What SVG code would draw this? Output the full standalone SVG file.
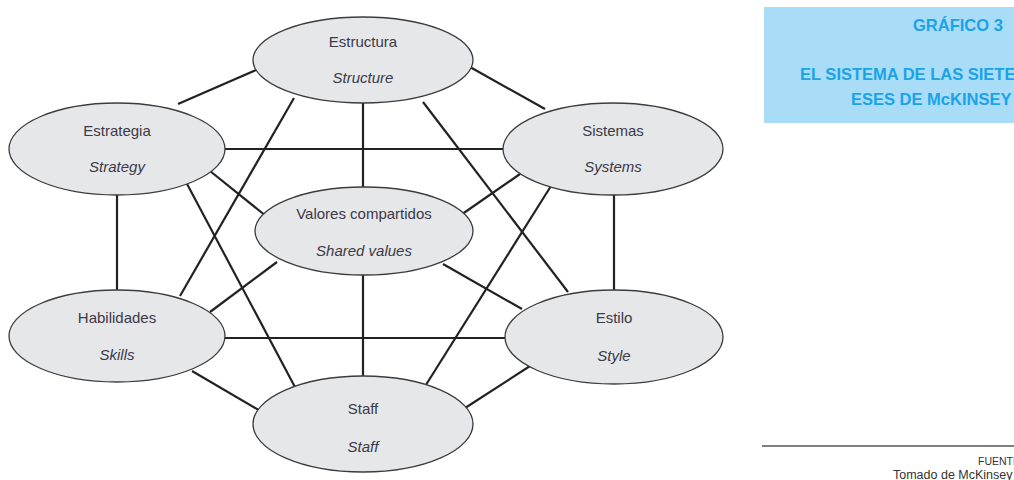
<svg xmlns="http://www.w3.org/2000/svg" width="1014" height="480" viewBox="0 0 1014 480">
<style>
.n{fill:#e6e7e9;stroke:#3c3c3c;stroke-width:1.3}
.t{font-family:"Liberation Sans",Arial,sans-serif;font-size:15px;fill:#3a3a48;text-anchor:middle}
.i{font-style:italic}
.c line{stroke:#222;stroke-width:2.2}
.h{font-family:"Liberation Sans",Arial,sans-serif;font-weight:bold;font-size:16.5px;fill:#1aa3e8}
.f{font-family:"Liberation Sans",Arial,sans-serif;fill:#333}
</style>
<rect width="1014" height="480" fill="#fff"/>
<g id="connectors" class="c">
<line x1="178" y1="104" x2="256" y2="70"/>
<line x1="470" y1="67" x2="545" y2="109"/>
<line x1="363" y1="100" x2="363" y2="190"/>
<line x1="294" y1="98" x2="180" y2="296"/>
<line x1="423" y1="102" x2="568" y2="292"/>
<line x1="220" y1="149" x2="508" y2="149"/>
<line x1="210" y1="171" x2="266" y2="216"/>
<line x1="117" y1="192" x2="117" y2="293"/>
<line x1="186" y1="182" x2="296" y2="389"/>
<line x1="520" y1="174" x2="458" y2="217"/>
<line x1="551" y1="186" x2="424" y2="388"/>
<line x1="614" y1="192" x2="614" y2="294"/>
<line x1="277" y1="262" x2="210" y2="312"/>
<line x1="443" y1="264" x2="522" y2="309"/>
<line x1="363" y1="272" x2="363" y2="379"/>
<line x1="220" y1="338" x2="510" y2="338"/>
<line x1="192" y1="371" x2="262" y2="412"/>
<line x1="530" y1="366" x2="462" y2="410"/>
</g>
<g id="estructura"><ellipse class="n" cx="363" cy="60" rx="110" ry="43"/><text class="t" x="363" y="47">Estructura</text><text class="t i" x="363" y="83">Structure</text></g>
<g id="estrategia"><ellipse class="n" cx="117" cy="149" rx="108" ry="46"/><text class="t" x="117" y="136">Estrategia</text><text class="t i" x="117" y="172">Strategy</text></g>
<g id="sistemas"><ellipse class="n" cx="613" cy="149" rx="110" ry="46"/><text class="t" x="613" y="136">Sistemas</text><text class="t i" x="613" y="172">Systems</text></g>
<g id="valores"><ellipse class="n" cx="364" cy="231" rx="109" ry="44"/><text class="t" x="364" y="219">Valores compartidos</text><text class="t i" x="364" y="256">Shared values</text></g>
<g id="habilidades"><ellipse class="n" cx="117" cy="336" rx="108" ry="46"/><text class="t" x="117" y="323">Habilidades</text><text class="t i" x="117" y="360">Skills</text></g>
<g id="estilo"><ellipse class="n" cx="614" cy="337" rx="109" ry="47"/><text class="t" x="614" y="323">Estilo</text><text class="t i" x="614" y="361">Style</text></g>
<g id="staff"><ellipse class="n" cx="363" cy="424" rx="110" ry="48"/><text class="t" x="363" y="414">Staff</text><text class="t i" x="363" y="452">Staff</text></g>
<g id="panel">
<rect x="764" y="7" width="250" height="116" fill="#a9dcf6"/>
<text class="h" x="913" y="31" font-size="17.5">GRÁFICO 3</text>
<text class="h" x="800" y="80">EL SISTEMA DE LAS SIETE</text>
<text class="h" x="851" y="105">ESES DE McKINSEY</text>
</g>
<g id="fuente">
<line x1="762" y1="446" x2="1014" y2="446" stroke="#555" stroke-width="1.5"/>
<text class="f" x="978" y="465" font-size="10.5">FUENTE</text>
<text class="f" x="893" y="479" font-size="12.5">Tomado de McKinsey</text>
</g>
</svg>
